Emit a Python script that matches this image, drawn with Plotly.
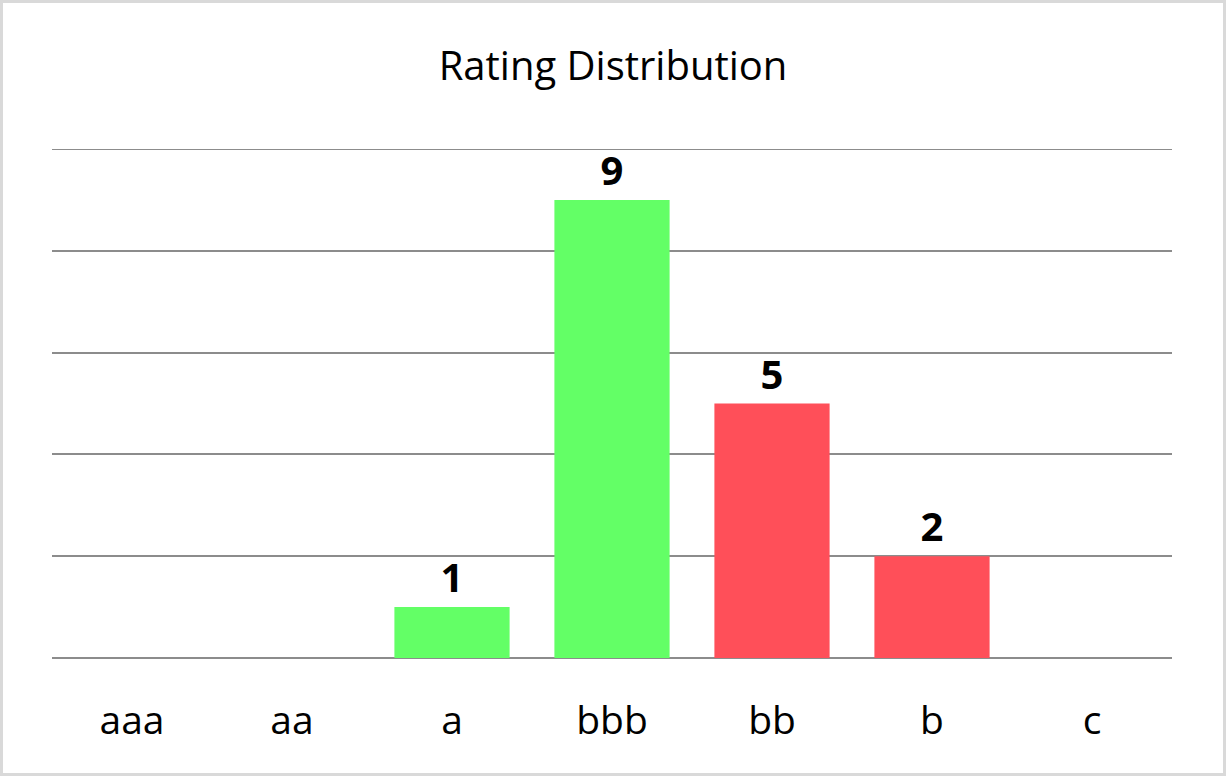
import plotly.graph_objects as go

categories = ["aaa", "aa", "a", "bbb", "bb", "b", "c"]
counts = [0, 0, 1, 9, 5, 2, 0]
bar_colors = ["#63FF66", "#63FF66", "#63FF66", "#63FF66", "#FF4F59", "#FF4F59", "#FF4F59"]
labels = [str(v) if v else "" for v in counts]
y_max = 10

W, H = 1226, 776
L, R, T, B = 52, 54, 149, 118
pw, ph = W - L - R, H - T - B
FONT = "Open Sans"
GRID = "#8C8C8C"

fig = go.Figure(go.Bar(
    x=categories, y=counts, marker=dict(color=bar_colors, line=dict(width=0)),
    text=labels, textposition="outside", cliponaxis=False,
    textfont=dict(family=FONT, size=40, color="black", weight="bold"),
    width=0.72,
))

fig.update_layout(
    width=W, height=H, margin=dict(l=L, r=R, t=T, b=B),
    paper_bgcolor="white", plot_bgcolor="white",
    font=dict(family=FONT, color="black"),
    title=dict(text="Rating Distribution", x=0.5, xanchor="center",
               y=1 - 66 / H, yanchor="middle", yref="container",
               font=dict(family=FONT, size=40, color="black")),
    showlegend=False,
    xaxis=dict(showline=False, showgrid=False, ticks="outside", ticklen=28,
               tickcolor="rgba(0,0,0,0)", tickfont=dict(size=39, family=FONT)),
    yaxis=dict(range=[0, y_max], dtick=2, showticklabels=False, showgrid=True,
               gridcolor=GRID, gridwidth=2, zeroline=True,
               zerolinecolor=GRID, zerolinewidth=2, showline=False),
    shapes=[
        dict(type="line", xref="paper", yref="y", x0=0, x1=1, y0=y_max, y1=y_max,
             line=dict(color=GRID, width=2), layer="below"),
        dict(type="rect", xref="paper", yref="paper",
             x0=(1.5 - L) / pw, x1=(W - 1.5 - L) / pw,
             y0=(T + ph - (H - 1.5)) / ph, y1=(T + ph - 1.5) / ph,
             line=dict(color="#D9D9D9", width=3), fillcolor="rgba(0,0,0,0)"),
    ],
)

fig.write_html("out.html")
